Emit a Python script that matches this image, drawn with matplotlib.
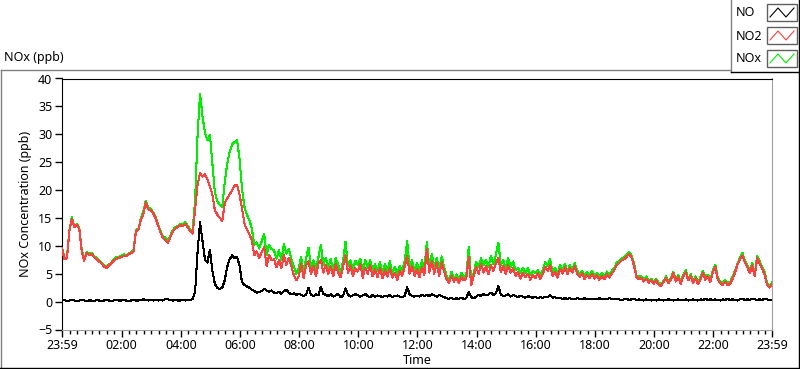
import numpy as np
import matplotlib
matplotlib.use("Agg")
import matplotlib.pyplot as plt
from matplotlib.lines import Line2D
from matplotlib.patches import Rectangle

W, H = 800, 369

# sample times: minutes after 23:59, one reading every 5 minutes
minutes = np.arange(0, 1445, 5)

# NO (ppb), one row per hour
no_ppb = [
    0.2, 0.3, 0.1, 0.2, 0.3, 0.2, 0.1, 0.2, 0.3, 0.2, 0.1, 0.2,
    0.2, 0.1, 0.3, 0.2, 0.1, 0.2, 0.3, 0.2, 0.1, 0.2, 0.3, 0.2,
    0.2, 0.3, 0.2, 0.1, 0.2, 0.3, 0.2, 0.2, 0.3, 0.4, 0.3, 0.2,
    0.3, 0.2, 0.3, 0.2, 0.3, 0.2, 0.5, 0.4, 0.3, 0.2, 0.3, 0.2,
    0.2, 0.3, 0.2, 0.3, 0.3, 0.5, 1.8, 9.0, 14.2, 10.8, 7.5, 7.0,
    9.3, 5.5, 3.2, 2.4, 2.3, 2.5, 3.8, 6.2, 7.6, 8.3, 7.8, 8.0,
    6.5, 3.5, 3.0, 2.7, 2.5, 2.1, 1.9, 1.6, 1.7, 1.9, 2.3, 2.0,
    1.8, 2.0, 1.6, 1.5, 1.8, 1.4, 1.9, 2.1, 1.6, 1.3, 1.5, 1.2,
    1.4, 1.2, 1.0, 1.3, 2.5, 1.2, 1.0, 1.3, 1.1, 2.7, 1.4, 1.2,
    1.0, 1.3, 0.9, 1.1, 1.4, 0.8, 1.0, 2.4, 1.2, 0.9, 1.1, 1.3,
    1.2, 0.9, 1.1, 1.4, 1.0, 0.8, 1.2, 0.9, 1.1, 1.0, 0.8, 1.1,
    0.9, 1.2, 0.8, 1.0, 1.1, 0.9, 0.8, 1.0, 2.6, 1.3, 1.0, 0.9,
    1.1, 0.9, 1.2, 1.0, 1.2, 1.0, 1.3, 1.1, 0.9, 1.2, 1.0, 0.8,
    0.6, 0.5, 0.7, 0.4, 0.6, 0.5, 0.7, 0.5, 0.6, 1.8, 0.8, 0.6,
    0.9, 1.2, 1.0, 1.4, 1.1, 1.3, 1.6, 1.2, 1.5, 2.8, 1.3, 1.0,
    1.1, 1.3, 0.9, 1.2, 1.0, 0.8, 1.1, 0.9, 0.7, 1.0, 0.8, 0.7,
    0.9, 0.6, 0.8, 0.7, 0.9, 0.8, 1.1, 0.7, 0.8, 0.6, 0.7, 0.5,
    0.6, 0.5, 0.6, 0.4, 0.5, 0.6, 0.5, 0.4, 0.6, 0.5, 0.4, 0.5,
    0.5, 0.4, 0.6, 0.5, 0.4, 0.5, 0.6, 0.5, 0.4, 0.5, 0.4, 0.3,
    0.4, 0.5, 0.3, 0.4, 0.5, 0.3, 0.4, 0.3, 0.2, 0.4, 0.3, 0.2,
    0.3, 0.2, 0.4, 0.3, 0.2, 0.3, 0.4, 0.3, 0.2, 0.3, 0.4, 0.3,
    0.3, 0.4, 0.2, 0.3, 0.4, 0.3, 0.2, 0.4, 0.3, 0.5, 0.3, 0.4,
    0.3, 0.4, 0.3, 0.2, 0.4, 0.3, 0.5, 0.3, 0.4, 0.3, 0.2, 0.4,
    0.5, 0.3, 0.4, 0.3, 0.5, 0.4, 0.3, 0.4, 0.3, 0.5, 0.4, 0.3,
    0.3,
]

# NO2 (ppb)
no2_ppb = [
    9.5, 7.6, 7.8, 12.6, 14.9, 13.3, 13.8, 13.1, 9.0, 7.3, 8.8, 8.3,
    8.6, 8.0, 7.6, 7.2, 6.9, 6.3, 6.0, 6.4, 6.9, 7.3, 7.7, 7.8,
    8.0, 8.2, 8.1, 8.5, 8.7, 9.0, 12.6, 12.9, 14.6, 15.7, 17.8, 16.5,
    16.4, 15.8, 14.9, 13.6, 12.3, 11.4, 11.0, 10.5, 11.6, 12.6, 13.1, 13.4,
    13.7, 13.5, 14.0, 13.3, 12.6, 12.2, 16.5, 21.0, 23.0, 22.4, 22.8, 21.9,
    20.6, 19.2, 16.4, 15.6, 15.0, 14.5, 17.6, 18.5, 19.2, 19.9, 20.8, 20.9,
    19.2, 16.8, 14.0, 12.9, 12.1, 11.0, 8.3, 9.0, 7.8, 8.9, 9.8, 6.4,
    8.4, 7.4, 7.6, 6.2, 7.4, 6.0, 8.4, 6.5, 7.9, 6.4, 4.8, 3.8,
    4.5, 6.8, 4.2, 6.5, 7.2, 5.0, 6.4, 4.6, 6.8, 7.5, 5.2, 6.6,
    5.0, 6.3, 4.5, 6.7, 5.3, 4.4, 6.2, 8.3, 5.1, 6.5, 4.6, 6.0,
    5.4, 6.8, 4.3, 6.1, 5.0, 6.6, 4.5, 5.8, 4.4, 6.1, 4.2, 5.6,
    4.5, 6.0, 4.3, 5.2, 3.9, 5.5, 4.6, 6.3, 8.2, 5.0, 6.4, 4.6,
    5.8, 4.4, 6.2, 4.8, 9.5, 5.2, 7.3, 5.0, 6.9, 4.6, 7.1, 5.4,
    4.0, 3.4, 4.6, 3.6, 4.3, 3.3, 4.5, 3.8, 4.2, 8.0, 2.9, 4.6,
    6.2, 5.0, 6.8, 5.2, 6.4, 4.9, 6.6, 5.5, 6.9, 7.8, 5.3, 6.4,
    4.9, 6.5, 5.2, 6.0, 4.6, 5.3, 4.1, 5.2, 4.4, 5.0, 3.9, 4.8,
    4.2, 5.1, 4.0, 4.9, 6.2, 5.5, 6.5, 4.6, 5.3, 4.3, 5.9, 5.0,
    6.2, 4.9, 6.0, 5.2, 6.4, 5.0, 4.4, 5.1, 4.0, 4.8, 4.2, 5.0,
    4.1, 4.7, 3.9, 4.6, 4.0, 4.9, 4.3, 5.0, 5.6, 6.5, 6.9, 7.4,
    7.6, 8.0, 8.6, 7.9, 6.5, 4.4, 4.0, 4.3, 3.6, 4.1, 3.4, 3.9,
    3.2, 3.8, 3.0, 2.8, 3.5, 4.2, 3.3, 4.0, 5.1, 3.6, 4.4, 3.2,
    4.5, 5.3, 3.8, 4.6, 3.4, 4.2, 3.1, 4.0, 5.2, 3.9, 4.5, 3.5,
    5.3, 6.2, 4.0, 3.3, 3.0, 3.6, 2.9, 3.2, 4.1, 5.2, 6.6, 7.5,
    8.3, 7.0, 6.2, 5.1, 6.5, 4.5, 7.9, 6.8, 5.9, 4.8, 3.0, 2.5,
    3.1,
]

# NOx (ppb)
nox_ppb = [
    9.7, 7.9, 7.9, 12.8, 15.2, 13.5, 13.9, 13.3, 9.3, 7.5, 8.9, 8.5,
    8.8, 8.1, 7.9, 7.4, 7.0, 6.5, 6.3, 6.6, 7.0, 7.5, 8.0, 8.0,
    8.2, 8.5, 8.3, 8.6, 8.9, 9.3, 12.8, 13.1, 14.9, 16.1, 18.1, 16.7,
    16.7, 16.0, 15.2, 13.8, 12.6, 11.6, 11.5, 10.9, 11.9, 12.8, 13.4, 13.6,
    13.9, 13.8, 14.2, 13.6, 12.9, 12.7, 18.3, 30.0, 37.2, 33.2, 30.3, 28.9,
    29.9, 24.7, 19.6, 18.0, 17.3, 17.0, 21.4, 24.7, 26.8, 28.2, 28.6, 28.9,
    25.7, 20.3, 17.0, 15.6, 14.6, 13.1, 10.2, 10.6, 9.5, 10.8, 12.1, 8.4,
    10.2, 9.4, 9.2, 7.7, 9.2, 7.4, 10.3, 8.6, 9.5, 7.7, 6.3, 5.0,
    5.9, 8.0, 5.2, 7.8, 9.7, 6.2, 7.4, 5.9, 7.9, 10.2, 6.6, 7.8,
    6.0, 7.6, 5.4, 7.8, 6.7, 5.2, 7.2, 10.7, 6.3, 7.4, 5.7, 7.3,
    6.6, 7.7, 5.4, 7.5, 6.0, 7.4, 5.7, 6.7, 5.5, 7.1, 5.0, 6.7,
    5.4, 7.2, 5.1, 6.2, 5.0, 6.4, 5.4, 7.3, 10.8, 6.3, 7.4, 5.5,
    6.9, 5.3, 7.4, 5.8, 10.7, 6.2, 8.6, 6.1, 7.8, 5.8, 8.1, 6.2,
    4.6, 3.9, 5.3, 4.0, 4.9, 3.8, 5.2, 4.3, 4.8, 9.8, 3.7, 5.2,
    7.1, 6.2, 7.8, 6.6, 7.5, 6.2, 8.2, 6.7, 8.4, 10.6, 6.6, 7.4,
    6.0, 7.8, 6.1, 7.2, 5.6, 6.1, 5.2, 6.1, 5.1, 6.0, 4.7, 5.5,
    5.1, 5.7, 4.8, 5.6, 7.1, 6.3, 7.6, 5.3, 6.1, 4.9, 6.6, 5.5,
    6.8, 5.4, 6.6, 5.6, 6.9, 5.6, 4.9, 5.5, 4.6, 5.3, 4.6, 5.5,
    4.6, 5.1, 4.5, 5.1, 4.4, 5.4, 4.9, 5.5, 6.0, 7.0, 7.3, 7.7,
    8.0, 8.5, 8.9, 8.3, 7.0, 4.7, 4.4, 4.6, 3.8, 4.5, 3.7, 4.1,
    3.5, 4.0, 3.4, 3.1, 3.7, 4.5, 3.7, 4.3, 5.3, 3.9, 4.8, 3.5,
    4.8, 5.7, 4.0, 4.9, 3.8, 4.5, 3.3, 4.4, 5.5, 4.4, 4.8, 3.9,
    5.6, 6.6, 4.3, 3.5, 3.4, 3.9, 3.4, 3.5, 4.5, 5.5, 6.8, 7.9,
    8.8, 7.3, 6.6, 5.4, 7.0, 4.9, 8.2, 7.2, 6.2, 5.3, 3.4, 2.8,
    3.4,
]

series_names = ["NO", "NO2", "NOx"]
series_colors = ["#000000", "#ff4040", "#00ee00"]

tick_minutes = [0, 121, 241, 361, 481, 601, 721, 841, 961, 1081, 1201, 1321, 1440]
tick_labels = ["23:59", "02:00", "04:00", "06:00", "08:00", "10:00", "12:00",
               "14:00", "16:00", "18:00", "20:00", "22:00", "23:59"]


def fx(x):
    return x / W


def fy(y):
    return 1 - y / H


plt.rcParams["font.family"] = ["Noto Sans", "DejaVu Sans"]
fig = plt.figure(figsize=(W / 100, H / 100), dpi=100)

left, right, top, bottom = 62, 772, 78.5, 329.5
ax = fig.add_axes([fx(left), fy(bottom), fx(right) - fx(left), (bottom - top) / H])

# LabVIEW draws un-smoothed 1px lines
ax.plot(minutes, nox_ppb, color=series_colors[2], lw=0.75, zorder=2, antialiased=False)
ax.plot(minutes, no2_ppb, color=series_colors[1], lw=0.75, zorder=3, antialiased=False)
ax.plot(minutes, no_ppb, color=series_colors[0], lw=0.75, zorder=4, antialiased=False)

ax.set_xlim(0, 1440)
ax.set_ylim(-5, 40)
ax.set_yticks(range(-5, 41, 5))
ax.set_xticks(tick_minutes)
ax.set_xticklabels(tick_labels)
minor = [m for m in range(16, 1440, 15) if m not in tick_minutes]
ax.set_xticks(minor, minor=True)
ax.tick_params(axis="both", which="major", length=5, width=1, labelsize=9, pad=2, color="black")
ax.tick_params(axis="x", which="minor", length=3, width=1, color="black")

for side in ["left", "top"]:
    ax.spines[side].set_color("black")
for side in ["right", "bottom"]:
    ax.spines[side].set_color("#a0a0a0")

ax.set_ylabel("NOx Concentration (ppb)", fontsize=9, labelpad=4)
ax.set_xlabel("Time", fontsize=9, labelpad=1)

# outer graph frame
fig.add_artist(Line2D([fx(0.5), fx(730)], [fy(69.5), fy(69.5)], color="#808080", lw=1))
fig.add_artist(Line2D([fx(0.5), fx(0.5)], [fy(69.5), fy(368)], color="#808080", lw=1))
fig.add_artist(Line2D([fx(0), fx(800)], [fy(368), fy(368)], color="black", lw=1))
fig.add_artist(Line2D([fx(799), fx(799)], [fy(0), fy(368)], color="black", lw=1))
fig.text(fx(4), fy(58), "NOx (ppb)", fontsize=9, va="center", ha="left")

# legend box
fig.add_artist(Line2D([fx(730.5), fx(730.5)], [fy(0), fy(72)], color="#808080", lw=1))
fig.add_artist(Line2D([fx(730.5), fx(799)], [fy(72), fy(72)], color="black", lw=1))
for i, (name, col) in enumerate(zip(series_names, series_colors)):
    y0 = 4 + i * 23
    fig.text(fx(736), fy(y0 + 9), name, fontsize=9, va="center", ha="left")
    fig.add_artist(Rectangle((fx(767), fy(y0 + 17)), 30 / W, 17 / H,
                             facecolor="white", edgecolor="#606060", lw=1))
    zig_x = [770, 778, 786, 794]
    zig_y = [y0 + 13, y0 + 4, y0 + 13, y0 + 4]
    fig.add_artist(Line2D([fx(v) for v in zig_x], [fy(v) for v in zig_y],
                          color=col, lw=0.8))

fig.savefig("out.png", dpi=100)
